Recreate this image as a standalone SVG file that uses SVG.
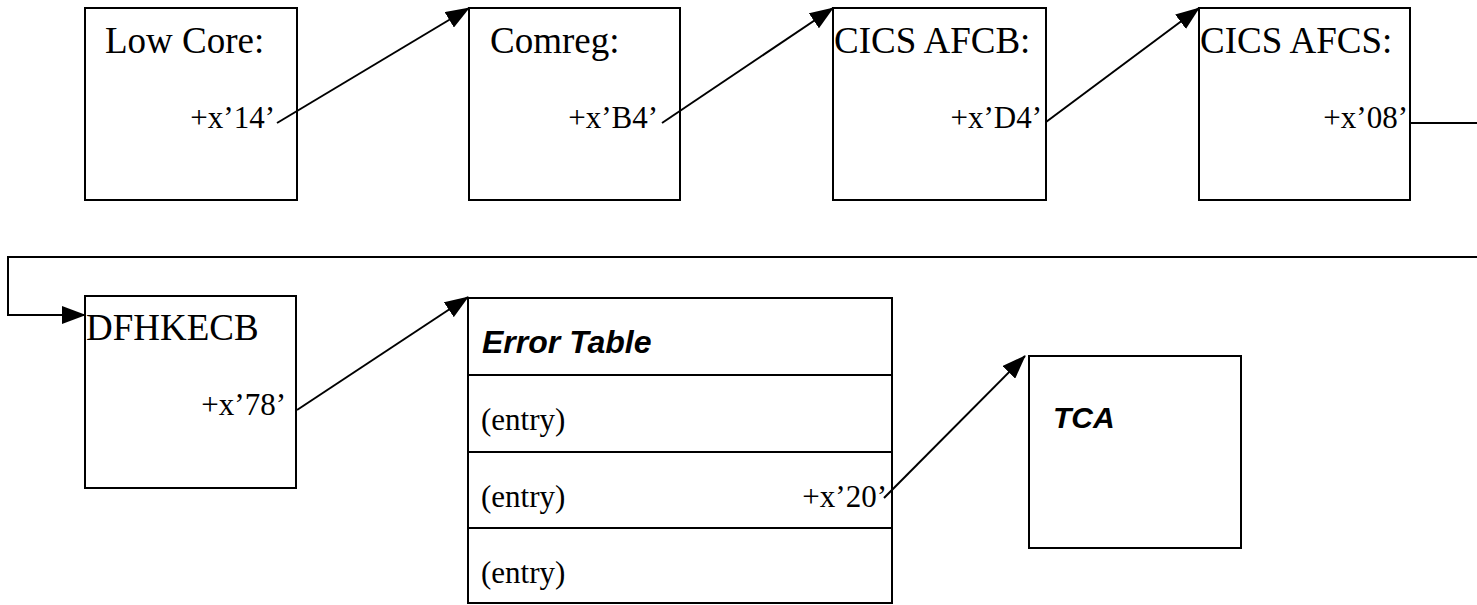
<svg xmlns="http://www.w3.org/2000/svg" width="1477" height="605" viewBox="0 0 1477 605">
<defs>
<marker id="ah" markerWidth="24" markerHeight="18" refX="23" refY="9" orient="auto" markerUnits="userSpaceOnUse">
<path d="M0,0 L24,9 L0,18 Z" fill="#000"/>
</marker>
<style>
.box{fill:#fff;stroke:#000;stroke-width:2}
.sep{stroke:#000;stroke-width:2}
.t{font-family:"Liberation Serif","Times New Roman",serif;font-size:37px;fill:#000}
.o{font-family:"Liberation Serif","Times New Roman",serif;font-size:31px;fill:#000}
.b{font-family:"Liberation Sans",Arial,sans-serif;font-size:32px;font-weight:bold;font-style:italic;fill:#000}
.c{fill:none;stroke:#000;stroke-width:2}
</style>
</defs>
<rect width="1477" height="605" fill="#fff"/>
<g id="lowcore">
<rect class="box" x="85" y="8" width="212" height="192"/>
<text class="t" x="105" y="53">Low Core:</text>
<text class="o" x="275" y="128" text-anchor="end">+x’14’</text>
</g>
<g id="comreg">
<rect class="box" x="469" y="8" width="211" height="192"/>
<text class="t" x="490" y="53">Comreg:</text>
<text class="o" x="658" y="128" text-anchor="end">+x’B4’</text>
</g>
<g id="afcb">
<rect class="box" x="833" y="8" width="213" height="192"/>
<text class="t" x="834" y="53">CICS AFCB:</text>
<text class="o" x="1042" y="128" text-anchor="end">+x’D4’</text>
</g>
<g id="afcs">
<rect class="box" x="1199" y="8" width="211" height="192"/>
<text class="t" x="1200" y="53">CICS AFCS:</text>
<text class="o" x="1408" y="128" text-anchor="end">+x’08’</text>
</g>
<g id="dfhkecb">
<rect class="box" x="85" y="296" width="211" height="192"/>
<text class="t" x="86" y="340">DFHKECB</text>
<text class="o" x="286" y="415" text-anchor="end">+x’78’</text>
</g>
<g id="errortable">
<rect class="box" x="468" y="298" width="424" height="305"/>
<line class="sep" x1="468" y1="375" x2="892" y2="375"/>
<line class="sep" x1="468" y1="452" x2="892" y2="452"/>
<line class="sep" x1="468" y1="528" x2="892" y2="528"/>
<text class="b" x="482" y="353">Error Table</text>
<text class="o" x="481" y="430">(entry)</text>
<text class="o" x="481" y="507">(entry)</text>
<text class="o" x="887" y="507" text-anchor="end">+x’20’</text>
<text class="o" x="481" y="583">(entry)</text>
</g>
<g id="tca">
<rect class="box" x="1029" y="356" width="212" height="192"/>
<text class="b" x="1053" y="428" style="font-size:30px">TCA</text>
</g>
<g id="connectors">
<line class="c" x1="277" y1="123" x2="469" y2="8" marker-end="url(#ah)"/>
<line class="c" x1="662" y1="123" x2="833" y2="8" marker-end="url(#ah)"/>
<line class="c" x1="1046" y1="122" x2="1199" y2="8" marker-end="url(#ah)"/>
<polyline class="c" points="1410,123 1477,123"/>
<polyline class="c" points="1477,257 8,257 8,315 85,315" marker-end="url(#ah)"/>
<line class="c" x1="297" y1="410" x2="468" y2="297" marker-end="url(#ah)"/>
<line class="c" x1="884" y1="498" x2="1025" y2="356" marker-end="url(#ah)"/>
</g>
</svg>
